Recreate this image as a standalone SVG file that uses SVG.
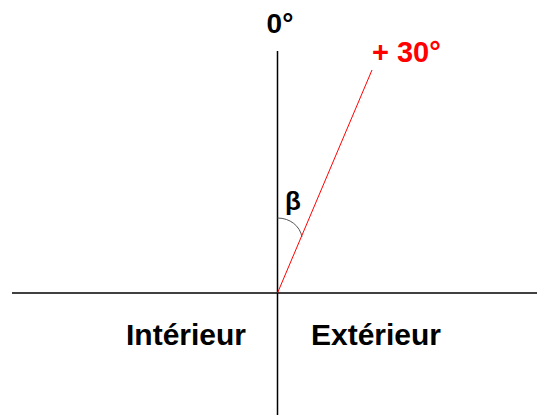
<svg xmlns="http://www.w3.org/2000/svg" width="539" height="415" viewBox="0 0 539 415">
<style>
.t{font-family:"Liberation Sans",Arial,sans-serif;font-weight:bold;fill:#000}
.ax{stroke:#000;stroke-width:1.5;fill:none}
</style>
<rect width="539" height="415" fill="#fff"/>
<g id="connectors">
<line class="ax" x1="277.5" y1="51" x2="277.5" y2="415"/>
<line class="ax" x1="12" y1="293" x2="537" y2="293"/>
<line x1="277.5" y1="293" x2="372" y2="70" stroke="#ff0000" stroke-width="1"/>
<path d="M277.5 218 C290 218 300 226 302 237" stroke="#555" stroke-width="1" fill="none"/>
</g>
<g id="label-0"><text class="t" x="280" y="33" font-size="28" text-anchor="middle">0°</text></g>
<g id="label-30"><text class="t" x="372" y="62" font-size="29" style="fill:#ff0000">+ 30°</text></g>
<g id="label-beta"><text class="t" x="285" y="210" font-size="26">β</text></g>
<g id="label-int"><text class="t" x="186" y="345" font-size="30" text-anchor="middle">Intérieur</text></g>
<g id="label-ext"><text class="t" x="376" y="345" font-size="30" text-anchor="middle">Extérieur</text></g>
</svg>
